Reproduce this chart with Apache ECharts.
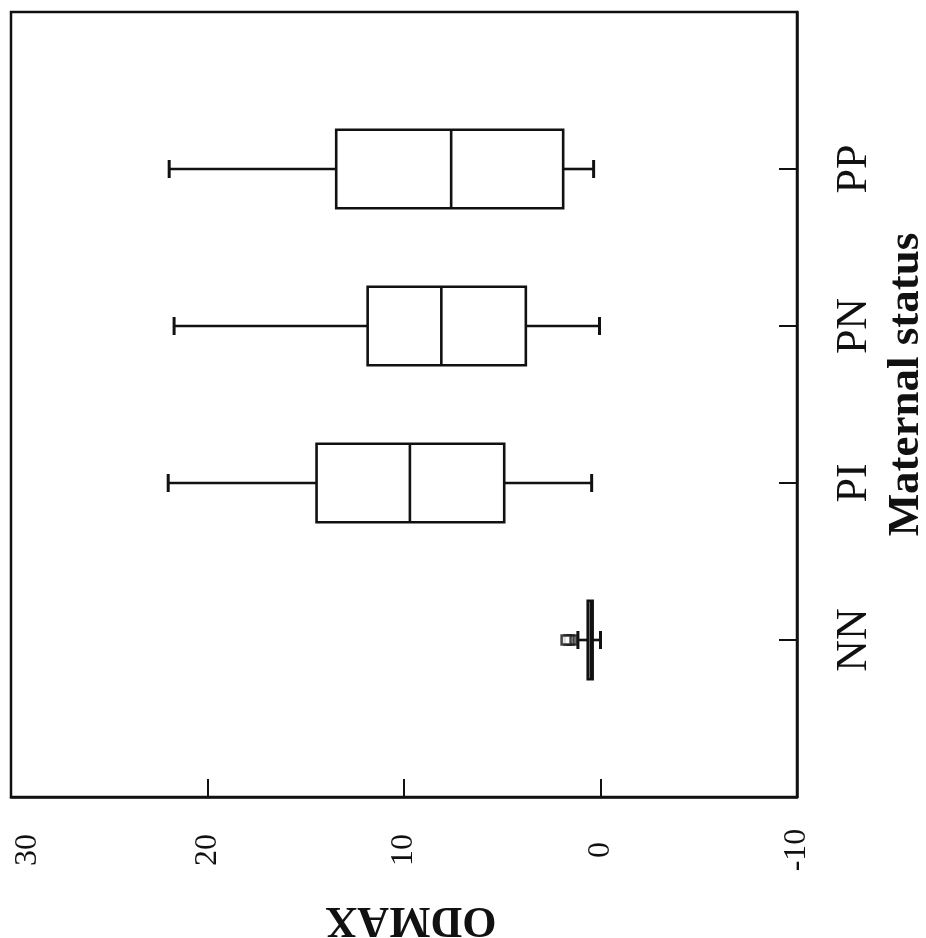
<!DOCTYPE html>
<html>
<head>
<meta charset="utf-8">
<script src="https://cdn.jsdelivr.net/npm/echarts@6/dist/echarts.min.js"></script>
<style>
html,body{margin:0;padding:0;background:#fff;}
#c{width:926px;height:938px;}
</style>
</head>
<body>
<div id="c"></div>
<script>
// Category axis slots (blank slots pad the frame on both ends)
const categories = ['', 'NN', 'PI', 'PN', 'PP', ''];
// Box statistics: [category, min, Q1, median, Q3, max]
const groups = ['NN', 'PI', 'PN', 'PP'];
const minVals = [0.0, 0.45, 0.05, 0.35];
const q1Vals = [0.4, 4.9, 3.8, 1.9];
const medianVals = [0.5, 9.7, 8.1, 7.6];
const q3Vals = [0.65, 14.45, 11.85, 13.45];
const maxVals = [1.15, 22.0, 21.7, 21.95];
// Outliers
const outlierGroup = ['NN', 'NN', 'NN'];
const outlierVals = [1.45, 1.6, 1.75];
const valueTicks = [-10, 0, 10, 20, 30];

const boxData = groups.map((g, i) => [g, minVals[i], q1Vals[i], medianVals[i], q3Vals[i], maxVals[i]]);
const outlierData = outlierVals.map((v, i) => [v, outlierGroup[i]]);

const INK = '#111';
const FONT = '"Liberation Serif", "Times New Roman", serif';
const LW = 2.6;

function renderBox(params, api) {
  const cat = api.value(0);
  const vMin = api.value(1), vQ1 = api.value(2), vMed = api.value(3), vQ3 = api.value(4), vMax = api.value(5);
  const band = api.size([0, 1])[1];
  const h = band * 0.5;
  const cap = band * 0.115;
  const pt = v => api.coord([v, cat]);
  const pMin = pt(vMin), pQ1 = pt(vQ1), pMed = pt(vMed), pQ3 = pt(vQ3), pMax = pt(vMax);
  const y = pMed[1];
  const style = { stroke: INK, lineWidth: LW, fill: null };
  const x0 = Math.min(pQ1[0], pQ3[0]);
  const w = Math.abs(pQ3[0] - pQ1[0]);
  return {
    type: 'group',
    children: [
      { type: 'rect', shape: { x: x0, y: y - h / 2, width: w, height: h }, style: { stroke: INK, lineWidth: LW, fill: '#fff' } },
      { type: 'line', shape: { x1: pMed[0], y1: y - h / 2, x2: pMed[0], y2: y + h / 2 }, style: style },
      { type: 'line', shape: { x1: pQ3[0], y1: y, x2: pMax[0], y2: y }, style: style },
      { type: 'line', shape: { x1: pQ1[0], y1: y, x2: pMin[0], y2: y }, style: style },
      { type: 'line', shape: { x1: pMax[0], y1: y - cap / 2, x2: pMax[0], y2: y + cap / 2 }, style: { stroke: INK, lineWidth: 3 } },
      { type: 'line', shape: { x1: pMin[0], y1: y - cap / 2, x2: pMin[0], y2: y + cap / 2 }, style: { stroke: INK, lineWidth: 3 } }
    ]
  };
}

const chart = echarts.init(document.getElementById('c'), null, { renderer: 'canvas' });
chart.setOption({
  backgroundColor: '#fff',
  animation: false,
  grid: { left: 11, right: 129, top: 12, bottom: 141, show: true, borderColor: INK, borderWidth: 2.5, backgroundColor: 'transparent', containLabel: false, outerBoundsMode: 'none' },
  xAxis: {
    type: 'value', min: -10, max: 30, interval: 10, inverse: true, position: 'bottom',
    splitLine: { show: false },
    axisLine: { show: true, lineStyle: { color: INK, width: 2.5 } },
    axisTick: { show: true, inside: true, length: 18, lineStyle: { color: INK, width: 2 } },
    axisLabel: {
      rotate: 90, margin: 53, align: 'center', verticalAlign: 'middle',
      color: INK, fontFamily: FONT, fontSize: 32,
      formatter: v => (v === 30 ? '{a|30}' : '{b|' + v + '}'),
      rich: {
        a: { fontFamily: FONT, fontSize: 32, color: INK, padding: [34, 0, 0, 0] },
        b: { fontFamily: FONT, fontSize: 32, color: INK }
      }
    },
    name: 'ODMAX', nameLocation: 'middle', nameGap: 100, nameRotate: 180,
    nameTextStyle: { fontFamily: FONT, fontWeight: 'bold', fontSize: 44, color: INK, padding: [0, 14, 0, 0] }
  },
  yAxis: {
    type: 'category', data: categories, boundaryGap: false, position: 'right',
    splitLine: { show: false },
    axisLine: { show: true, onZero: false, lineStyle: { color: INK, width: 2.5 } },
    axisTick: { show: true, inside: true, length: 18, interval: i => i > 0 && i < 5, lineStyle: { color: INK, width: 2 } },
    axisLabel: { interval: 0, rotate: 90, margin: 57, align: 'center', verticalAlign: 'middle', color: INK, fontFamily: FONT, fontSize: 44 },
    name: 'Maternal status', nameLocation: 'middle', nameGap: 85, nameRotate: 90,
    nameTextStyle: { fontFamily: FONT, fontWeight: 'bold', fontSize: 45, color: INK, padding: [0, 0, 0, 40] }
  },
  series: [
    {
      type: 'custom', renderItem: renderBox, data: boxData,
      encode: { x: [1, 2, 3, 4, 5], y: 0 }, z: 3
    },
    {
      type: 'scatter', data: outlierData, symbol: 'rect', symbolSize: 9,
      itemStyle: { color: '#fff', borderColor: INK, borderWidth: 2.5 }, z: 4
    }
  ]
});
</script>
</body>
</html>
